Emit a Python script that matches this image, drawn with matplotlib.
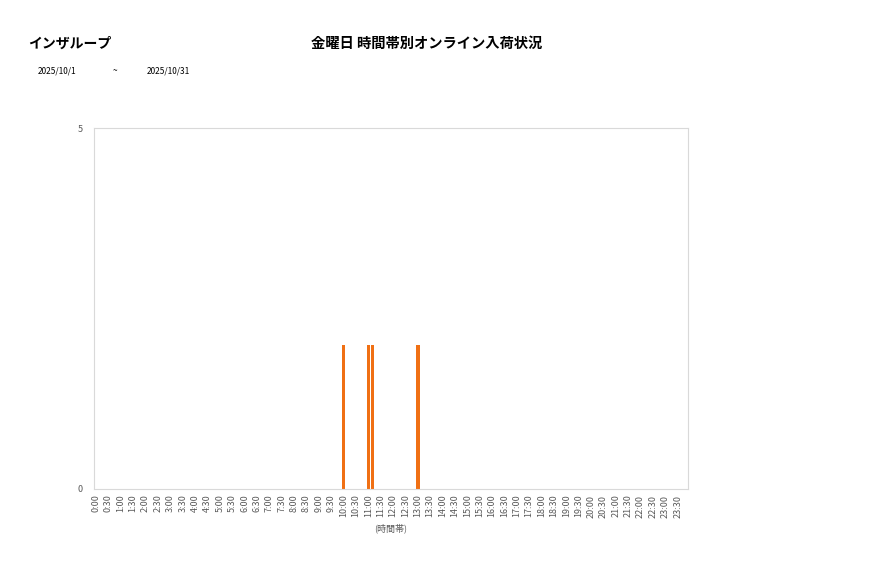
import matplotlib.pyplot as plt

plt.rcParams['font.family'] = ['Noto Sans CJK JP', 'DejaVu Sans']

# 10-minute slots, 0:00 - 23:50
slots = [f"{h}:{m:02d}" for h in range(24) for m in (0, 10, 20, 30, 40, 50)]

# arrivals per slot (12 slots = 2 hours per row)
counts = [
    0, 0, 0, 0, 0, 0, 0, 0, 0, 0, 0, 0,   # 0:00 - 1:50
    0, 0, 0, 0, 0, 0, 0, 0, 0, 0, 0, 0,   # 2:00 - 3:50
    0, 0, 0, 0, 0, 0, 0, 0, 0, 0, 0, 0,   # 4:00 - 5:50
    0, 0, 0, 0, 0, 0, 0, 0, 0, 0, 0, 0,   # 6:00 - 7:50
    0, 0, 0, 0, 0, 0, 0, 0, 0, 0, 0, 0,   # 8:00 - 9:50
    2, 0, 0, 0, 0, 0, 2, 2, 0, 0, 0, 0,   # 10:00 - 11:50
    0, 0, 0, 0, 0, 0, 2, 0, 0, 0, 0, 0,   # 12:00 - 13:50
    0, 0, 0, 0, 0, 0, 0, 0, 0, 0, 0, 0,   # 14:00 - 15:50
    0, 0, 0, 0, 0, 0, 0, 0, 0, 0, 0, 0,   # 16:00 - 17:50
    0, 0, 0, 0, 0, 0, 0, 0, 0, 0, 0, 0,   # 18:00 - 19:50
    0, 0, 0, 0, 0, 0, 0, 0, 0, 0, 0, 0,   # 20:00 - 21:50
    0, 0, 0, 0, 0, 0, 0, 0, 0, 0, 0, 0,   # 22:00 - 23:50
]

company = "インザループ"
title = "金曜日 時間帯別オンライン入荷状況"
date_from = "2025/10/1"
date_to = "2025/10/31"

fig = plt.figure(figsize=(8.77, 5.78), dpi=100)
ax = fig.add_axes([0.1072, 0.154, 0.6773, 0.6245])

x = list(range(len(slots)))
ax.bar(x, counts, width=0.85, color='#F07014')

ax.set_xlim(-0.5, len(slots) - 0.5)
ax.set_ylim(0, 5)
ax.set_yticks([0, 5])
ax.set_xticks(x[::3])
ax.set_xticklabels(slots[::3], rotation=90, fontsize=6.5, color='#595959')
ax.tick_params(axis='both', length=0, pad=4)
ax.tick_params(axis='y', labelsize=6.5, labelcolor='#595959', pad=8)
for s in ax.spines.values():
    s.set_color('#D9D9D9')
    s.set_linewidth(0.8)

ax.set_xlabel("(時間帯)", fontsize=6.5, color='#595959', labelpad=4)

fig.text(28 / 877, 1 - 44 / 578, company, fontsize=10, fontweight='bold', va='center', ha='left')
fig.text(427 / 877, 1 - 44 / 578, title, fontsize=10.3, fontweight='bold', va='center', ha='center')
fig.text(38 / 877, 1 - 71 / 578, date_from, fontsize=6, va='center', ha='left')
fig.text(115 / 877, 1 - 71 / 578, "~", fontsize=6, va='center', ha='center')
fig.text(147 / 877, 1 - 71 / 578, date_to, fontsize=6, va='center', ha='left')

fig.savefig("out.png", dpi=100)
